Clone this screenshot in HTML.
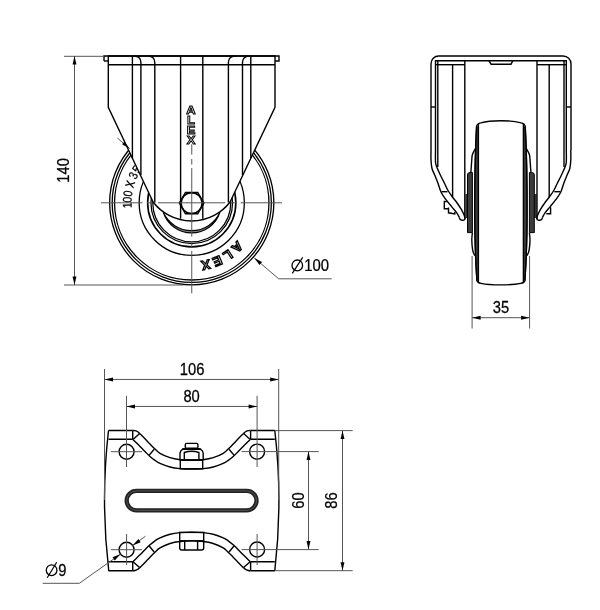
<!DOCTYPE html>
<html><head><meta charset="utf-8"><style>
html,body{margin:0;padding:0;background:#fff;}
svg{display:block;will-change:transform;}
.o{fill:none;stroke:#000;stroke-width:1.4;}
.d{fill:none;stroke:#565656;stroke-width:1;}
.cl{fill:none;stroke:#565656;stroke-width:1;}
.ah{fill:#000;stroke:none;}
.t{font-family:"Liberation Sans",sans-serif;fill:#000;stroke:#000;stroke-width:0.25;}
</style></head><body>
<svg width="600" height="610" viewBox="0 0 600 610">
<rect width="600" height="610" fill="#fff"/>
<circle cx="191.75" cy="202.8" r="82.1" fill="none" stroke="#000" stroke-width="1.3"/>
<circle cx="191.75" cy="202.8" r="79.6" fill="none" stroke="#000" stroke-width="1.3"/>
<circle cx="191.75" cy="202.8" r="77.2" fill="none" stroke="#000" stroke-width="1.3"/>
<circle cx="191.75" cy="202.8" r="52.6" fill="none" stroke="#000" stroke-width="1.3"/>
<circle cx="191.75" cy="202.8" r="44.1" fill="none" stroke="#000" stroke-width="1.6"/>
<circle cx="191.75" cy="202.8" r="40.8" fill="none" stroke="#000" stroke-width="1.25"/>
<circle cx="191.75" cy="202.8" r="39" fill="none" stroke="#000" stroke-width="1.25"/>
<path d="M163.3,212.3 A29.74,29.74 0 0 0 219.9,212.3 A30.96,30.96 0 0 1 163.3,212.3 Z" fill="#8a8a8a" stroke="#000" stroke-width="1.2"/>
<text class="t" font-size="12.6" text-anchor="middle" transform="translate(131.65,205.21) rotate(267.7) scale(0.82,1)">1</text>
<text class="t" font-size="12.6" text-anchor="middle" transform="translate(131.68,199.76) rotate(272.9) scale(0.82,1)">0</text>
<text class="t" font-size="12.6" text-anchor="middle" transform="translate(132.23,194.14) rotate(278.3) scale(0.82,1)">0</text>
<text class="t" font-size="16" text-anchor="middle" transform="translate(134.16,185.46) rotate(286.8) scale(0.82,1)">x</text>
<text class="t" font-size="12.6" text-anchor="middle" transform="translate(137.22,177.44) rotate(295) scale(0.82,1)">3</text>
<text class="t" font-size="12.6" text-anchor="middle" transform="translate(140.39,171.54) rotate(301.4) scale(0.82,1)">5</text>
<path id="tp2" d="M237.21,240.54 A59.2,59.2 0 0 1 136.11,223.44" fill="none"/>
<text font-family="Liberation Sans" font-weight="bold" font-size="13.2" letter-spacing="2.6" fill="#fff" stroke="#000" stroke-width="1.3"><textPath href="#tp2">ALEX</textPath></text>
<path d="M108.3,56 L275,56 L275,107.4 L230.1,202 A48.5,48.5 0 0 1 153.1,202 L108.3,107.4 Z" fill="#fff" stroke="#000" stroke-width="1.4"/>
<path d="M104,61 L104,56 L279,56 L279,61 L275,61" class="o"/>
<path d="M104,61 L108.3,61" class="o"/>
<line x1="108.3" y1="64.7" x2="275" y2="64.7" class="o"/>
<line x1="132.4" y1="56" x2="132.4" y2="158" class="o"/>
<path d="M134.7,56 A6.2,6.2 0 0 1 140.9,62.2 L140.9,175" class="o"/>
<path d="M148.6,56 A6.2,6.2 0 0 1 154.8,62.2 L154.8,202.5" class="o"/>
<line x1="180.6" y1="56" x2="180.6" y2="218.7" class="o"/>
<line x1="202.8" y1="56" x2="202.8" y2="218.7" class="o"/>
<path d="M234.6,56 A6.2,6.2 0 0 0 228.4,62.2 L228.4,202.5" class="o"/>
<path d="M248.7,56 A6.2,6.2 0 0 0 242.5,62.2 L242.5,175" class="o"/>
<line x1="250.8" y1="56" x2="250.8" y2="158" class="o"/>
<path d="M203.9,203.1 L197.75,213.75 L185.45,213.75 L179.3,203.1 L185.45,192.45 L197.75,192.45 Z" fill="#fff" class="o"/>
<circle cx="191.6" cy="203.1" r="10.4" class="o"/>
<text x="191" y="113.9" text-anchor="middle" font-family="Liberation Sans" font-weight="bold" font-size="11.8" fill="#fff" stroke="#000" stroke-width="0.95" transform="translate(191.2,0) scale(1.1,1) translate(-191.2,0)">A</text>
<text x="191" y="123.95" text-anchor="middle" font-family="Liberation Sans" font-weight="bold" font-size="11.8" fill="#fff" stroke="#000" stroke-width="0.95" transform="translate(191.2,0) scale(1.1,1) translate(-191.2,0)">L</text>
<text x="191" y="134" text-anchor="middle" font-family="Liberation Sans" font-weight="bold" font-size="11.8" fill="#fff" stroke="#000" stroke-width="0.95" transform="translate(191.2,0) scale(1.1,1) translate(-191.2,0)">E</text>
<text x="191" y="144.05" text-anchor="middle" font-family="Liberation Sans" font-weight="bold" font-size="11.8" fill="#fff" stroke="#000" stroke-width="0.95" transform="translate(191.2,0) scale(1.1,1) translate(-191.2,0)">X</text>
<path d="M101,202.8 H142.5 M147,202.8 H152.5 M158,202.8 H225.2 M230.6,202.8 H236.2 M240.7,202.8 H282" class="cl"/>
<path d="M191.75,144.3 V154.6 M191.75,159 V164.5 M191.75,168.1 V236.7 M191.75,241.4 V247.4 M191.75,250.9 V293.3" class="cl"/>
<line x1="117.4" y1="138" x2="129.6" y2="148.6" class="d" stroke="#333"/>
<path d="M129.6,148.6 L122.07,144.31 L124.3,141.74 Z" class="ah"/>
<line x1="64" y1="56.3" x2="104" y2="56.3" class="d"/>
<line x1="64" y1="285" x2="183" y2="285" class="d"/>
<line x1="74.5" y1="56" x2="74.5" y2="285" class="d"/>
<path d="M74.5,56 L76.45,64.5 L72.55,64.5 Z" class="ah"/>
<path d="M74.5,285 L72.55,276.5 L76.45,276.5 Z" class="ah"/>
<text class="t" font-size="16" transform="translate(69.3,170.4) rotate(-90) scale(0.92,1)" text-anchor="middle">140</text>
<polyline points="254.3,258 278.7,278.8 331.7,278.8" class="d"/>
<path d="M254.3,258 L262.01,262.07 L259.47,265.02 Z" class="ah"/>
<ellipse cx="297.3" cy="265.4" rx="5.3" ry="5.4" fill="none" stroke="#000" stroke-width="1.3"/>
<line x1="302.7" y1="257.4" x2="292.3" y2="273.3" stroke="#000" stroke-width="1.2"/>
<text class="t" font-size="16" transform="translate(304.3,270.9) scale(0.93,1)">100</text>
<path d="M438.7,56 L563.1,56 A7.9,7.9 0 0 1 571,63.9 L571,150 M438.7,56 A7.7,7.7 0 0 0 431,63.7 L431,150" class="o"/>
<path d="M431,150 C431,151.67 430.83,156.92 431,160 C431.17,163.08 431.38,166 432,168.5 C432.62,171 433.72,172.58 434.7,175 C435.68,177.42 436.83,180.12 437.9,183 C438.97,185.88 439.75,189.52 441.1,192.3 C442.45,195.08 444.25,197.32 446,199.7 C447.75,202.08 449.83,204.45 451.6,206.6 C453.37,208.75 455.3,210.78 456.6,212.6 C457.9,214.42 458.93,216.68 459.4,217.5" class="o"/>
<path d="M435.5,150 C435.5,152 435.32,159.25 435.5,162 C435.68,164.75 436.1,165 436.6,166.5 C437.1,168 437.72,169.25 438.5,171 C439.28,172.75 440.27,174.88 441.3,177 C442.33,179.12 443.58,181.45 444.7,183.7 C445.82,185.95 446.7,188.28 448,190.5 C449.3,192.72 450.98,194.92 452.5,197 C454.02,199.08 455.58,200.87 457.1,203 C458.62,205.13 460.4,207.72 461.6,209.8 C462.8,211.88 463.75,214.13 464.3,215.5 C464.85,216.87 464.8,217.58 464.9,218" class="o"/>
<path d="M570.8,150 C570.8,151.67 570.97,156.92 570.8,160 C570.63,163.08 570.42,166 569.8,168.5 C569.18,171 568.08,172.58 567.1,175 C566.12,177.42 564.97,180.12 563.9,183 C562.83,185.88 562.05,189.52 560.7,192.3 C559.35,195.08 557.55,197.32 555.8,199.7 C554.05,202.08 551.97,204.45 550.2,206.6 C548.43,208.75 546.5,210.78 545.2,212.6 C543.9,214.42 542.87,216.68 542.4,217.5" class="o"/>
<path d="M566.3,150 C566.3,152 566.48,159.25 566.3,162 C566.12,164.75 565.7,165 565.2,166.5 C564.7,168 564.08,169.25 563.3,171 C562.52,172.75 561.53,174.88 560.5,177 C559.47,179.12 558.22,181.45 557.1,183.7 C555.98,185.95 555.1,188.28 553.8,190.5 C552.5,192.72 550.82,194.92 549.3,197 C547.78,199.08 546.22,200.87 544.7,203 C543.18,205.13 541.4,207.72 540.2,209.8 C539,211.88 538.05,214.13 537.5,215.5 C536.95,216.87 537,217.58 536.9,218" class="o"/>
<path d="M459.4,217.5 Q459.8,220.2 461.8,220.2 L463.2,220.2 Q465.2,220.2 464.9,218" class="o"/>
<path d="M542.4,217.5 Q542,220.2 540,220.2 L538.6,220.2 Q536.6,220.2 536.9,218" class="o"/>
<line x1="441.5" y1="191.7" x2="447.5" y2="191.7" class="o"/>
<line x1="560.3" y1="191.7" x2="554.3" y2="191.7" class="o"/>
<line x1="431" y1="107" x2="435.5" y2="107" class="o"/>
<line x1="566.3" y1="107" x2="571" y2="107" class="o"/>
<path d="M435.5,150 L435.5,60.8 L566.3,60.8 L566.3,150" class="o"/>
<line x1="437.8" y1="61" x2="437.8" y2="167" class="o" stroke-width="1.1"/>
<line x1="564" y1="61" x2="564" y2="167" class="o" stroke-width="1.1"/>
<path d="M489,60.8 L491.1,64.2 L511,64.2 L512.8,60.8" class="o"/>
<line x1="435.5" y1="64.7" x2="464.8" y2="64.7" class="o"/>
<line x1="537" y1="64.7" x2="566.3" y2="64.7" class="o"/>
<line x1="452.6" y1="64.7" x2="452.6" y2="197.5" class="o"/>
<line x1="549.2" y1="64.7" x2="549.2" y2="197.5" class="o"/>
<line x1="464.8" y1="60.8" x2="464.8" y2="219" class="o" stroke-width="1.2"/>
<rect x="465.2" y="194" width="2.4" height="24" fill="#333"/>
<rect x="534.2" y="194" width="2.4" height="24" fill="#333"/>
<line x1="537" y1="60.8" x2="537" y2="219" class="o" stroke-width="1.2"/>
<path d="M447.2,201.5 L444.3,201.5 L444.3,208.7 L448.5,208.7" class="o"/>
<path d="M448.5,207.5 L448.5,212.8 L454.8,214 L454.8,212" fill="#888" class="o" stroke-width="1.1"/>
<path d="M550.6,207.3 L550.6,213.8 L546.3,213.8" class="o"/>
<path d="M476.6,126.5 C476.47,129.58 476.05,137.75 475.8,145 C475.55,152.25 475.27,160.33 475.1,170 C474.93,179.67 474.82,192.17 474.8,203 C474.78,213.83 474.83,225.5 475,235 C475.17,244.5 475.48,252.42 475.8,260 C476.12,267.58 476.72,277.08 476.9,280.5 Q477.5,282.8 481,283.4 C490.5,285.4 511.3,285.4 520.8,283.4 Q524.3,282.8 524.9,280.5 L524.9,280.5 C525.08,277.08 525.68,267.58 526,260 C526.32,252.42 526.63,244.5 526.8,235 C526.97,225.5 527.02,213.83 527,203 C526.98,192.17 526.87,179.67 526.7,170 C526.53,160.33 526.25,152.25 526,145 C525.75,137.75 525.33,129.58 525.2,126.5 Q524.9,123.6 521,122.9 C511.3,120 490.5,120 480.8,122.9 Q476.9,123.6 476.6,126.5 Z" fill="#fff" class="o" stroke-width="1.3"/>
<path d="M476.6,126.5 C476.47,129.58 476.05,137.75 475.8,145 C475.55,152.25 475.27,160.33 475.1,170 C474.93,179.67 474.82,192.17 474.8,203 C474.78,213.83 474.83,225.5 475,235 C475.17,244.5 475.48,252.42 475.8,260 C476.12,267.58 476.72,277.08 476.9,280.5 L478.4,280.5 L478.4,126.5 Z" fill="#3c3c3c" stroke="none"/>
<path d="M525.2,126.5 C525.33,129.58 525.75,137.75 526,145 C526.25,152.25 526.53,160.33 526.7,170 C526.87,179.67 526.98,192.17 527,203 C527.02,213.83 526.97,225.5 526.8,235 C526.63,244.5 526.32,252.42 526,260 C525.68,267.58 525.08,277.08 524.9,280.5 L523.4,280.5 L523.4,126.5 Z" fill="#3c3c3c" stroke="none"/>
<path d="M476.6,126.5 C476.47,129.58 476.05,137.75 475.8,145 C475.55,152.25 475.27,160.33 475.1,170 C474.93,179.67 474.82,192.17 474.8,203 C474.78,213.83 474.83,225.5 475,235 C475.17,244.5 475.48,252.42 475.8,260 C476.12,267.58 476.72,277.08 476.9,280.5" class="o" stroke-width="1.3"/>
<path d="M525.2,126.5 C525.33,129.58 525.75,137.75 526,145 C526.25,152.25 526.53,160.33 526.7,170 C526.87,179.67 526.98,192.17 527,203 C527.02,213.83 526.97,225.5 526.8,235 C526.63,244.5 526.32,252.42 526,260 C525.68,267.58 525.08,277.08 524.9,280.5" class="o" stroke-width="1.3"/>
<line x1="478.4" y1="124" x2="478.4" y2="282" class="o" stroke-width="1.3"/>
<line x1="523.4" y1="124" x2="523.4" y2="282" class="o" stroke-width="1.3"/>
<path d="M475.4,148.5 C475.13,149 474.33,150.35 473.8,151.5 C473.27,152.65 472.57,153.6 472.2,155.4 C471.83,157.2 471.77,160.2 471.6,162.3 C471.43,164.4 471.33,166.28 471.2,168 C471.07,169.72 470.87,171.83 470.8,172.6" class="o" stroke-width="1.2"/>
<path d="M472.4,232.7 C472.3,233.88 471.77,236.97 471.8,239.8 C471.83,242.63 472.27,247.4 472.6,249.7 C472.93,252 473.42,252.62 473.8,253.6 C474.18,254.58 474.72,255.27 474.9,255.6" class="o" stroke-width="1.2"/>
<path d="M526.4,148.5 C526.67,149 527.47,150.35 528,151.5 C528.53,152.65 529.23,153.6 529.6,155.4 C529.97,157.2 530.03,160.2 530.2,162.3 C530.37,164.4 530.47,166.28 530.6,168 C530.73,169.72 530.93,171.83 531,172.6" class="o" stroke-width="1.2"/>
<path d="M529.4,232.7 C529.5,233.88 530.03,236.97 530,239.8 C529.97,242.63 529.53,247.4 529.2,249.7 C528.87,252 528.38,252.62 528,253.6 C527.62,254.58 527.08,255.27 526.9,255.6" class="o" stroke-width="1.2"/>
<path d="M467.5,232.6 L467.5,175 Q467.5,172.5 470,172.5 L472.4,172.5 L472.4,232.6 Z" fill="#3c3c3c" stroke="#000" stroke-width="1"/>
<path d="M534.3,232.6 L534.3,175 Q534.3,172.5 531.8,172.5 L529.4,172.5 L529.4,232.6 Z" fill="#3c3c3c" stroke="#000" stroke-width="1"/>
<line x1="472.1" y1="256" x2="472.1" y2="328.5" class="d"/>
<line x1="529.6" y1="256" x2="529.6" y2="328.5" class="d"/>
<line x1="472.1" y1="317.7" x2="529.6" y2="317.7" class="d"/>
<path d="M472.1,317.7 L480.6,315.75 L480.6,319.65 Z" class="ah"/>
<path d="M529.6,317.7 L521.1,319.65 L521.1,315.75 Z" class="ah"/>
<text class="t" font-size="16" text-anchor="middle" transform="translate(500.9,313) scale(0.92,1)">35</text>
<path d="M108.5,430.5 A602,602 0 0 0 108.75,570.8" class="o"/>
<path d="M274.8,430.5 A602,602 0 0 1 274.8,570.8" class="o"/>
<path d="M108.5,430.5 L132.7,430.5 M108.5,439.3 L132.7,439.3 M132.7,430.5 L132.7,439.3" class="o"/>
<path d="M108.5,570.8 L132.7,570.8 M108.5,561.8 L132.7,561.8 M132.7,570.8 L132.7,561.8" class="o"/>
<path d="M250.6,430.5 L274.8,430.5 M250.6,439.3 L274.8,439.3 M250.6,430.5 L250.6,439.3" class="o"/>
<path d="M250.6,570.8 L274.8,570.8 M250.6,561.8 L274.8,561.8 M250.6,570.8 L250.6,561.8" class="o"/>
<path d="M132.7,430.5 C133.08,430.53 134.12,430.45 135,430.7 C135.88,430.95 137.08,431.4 138,432 C138.92,432.6 139.33,433.17 140.5,434.3 C141.67,435.43 143.42,437.18 145,438.8 C146.58,440.42 148.33,442.3 150,444 C151.67,445.7 153.33,447.45 155,449 C156.67,450.55 157.5,451.85 160,453.3 C162.5,454.75 166.67,456.63 170,457.7 C173.33,458.77 176.4,459.27 180,459.7 C183.6,460.13 187.73,460.3 191.6,460.3 C195.47,460.3 199.6,460.13 203.2,459.7 C206.8,459.27 209.87,458.77 213.2,457.7 C216.53,456.63 220.7,454.75 223.2,453.3 C225.7,451.85 226.53,450.55 228.2,449 C229.87,447.45 231.53,445.7 233.2,444 C234.87,442.3 236.62,440.42 238.2,438.8 C239.78,437.18 241.53,435.43 242.7,434.3 C243.87,433.17 244.28,432.6 245.2,432 C246.12,431.4 247.32,430.95 248.2,430.7 C249.08,430.45 250.12,430.53 250.5,430.5" class="o"/>
<path d="M132.7,439.3 C133.92,440.48 137.95,444.37 140,446.4 C142.05,448.43 143.33,449.82 145,451.5 C146.67,453.18 148.33,455.02 150,456.5 C151.67,457.98 153.33,459.25 155,460.4 C156.67,461.55 157.5,462.3 160,463.4 C162.5,464.5 166.67,466.13 170,467 C173.33,467.87 176.4,468.25 180,468.6 C183.6,468.95 187.73,469.1 191.6,469.1 C195.47,469.1 199.6,468.95 203.2,468.6 C206.8,468.25 209.87,467.87 213.2,467 C216.53,466.13 220.7,464.5 223.2,463.4 C225.7,462.3 226.53,461.55 228.2,460.4 C229.87,459.25 231.53,457.98 233.2,456.5 C234.87,455.02 236.53,453.18 238.2,451.5 C239.87,449.82 241.15,448.43 243.2,446.4 C245.25,444.37 249.28,440.48 250.5,439.3" class="o"/>
<path d="M132.7,570.7 C133.08,570.67 134.12,570.75 135,570.5 C135.88,570.25 137.08,569.8 138,569.2 C138.92,568.6 139.33,568.03 140.5,566.9 C141.67,565.77 143.42,564.02 145,562.4 C146.58,560.78 148.33,558.9 150,557.2 C151.67,555.5 153.33,553.75 155,552.2 C156.67,550.65 157.5,549.35 160,547.9 C162.5,546.45 166.67,544.57 170,543.5 C173.33,542.43 176.4,541.93 180,541.5 C183.6,541.07 187.73,540.9 191.6,540.9 C195.47,540.9 199.6,541.07 203.2,541.5 C206.8,541.93 209.87,542.43 213.2,543.5 C216.53,544.57 220.7,546.45 223.2,547.9 C225.7,549.35 226.53,550.65 228.2,552.2 C229.87,553.75 231.53,555.5 233.2,557.2 C234.87,558.9 236.62,560.78 238.2,562.4 C239.78,564.02 241.53,565.77 242.7,566.9 C243.87,568.03 244.28,568.6 245.2,569.2 C246.12,569.8 247.32,570.25 248.2,570.5 C249.08,570.75 250.12,570.67 250.5,570.7" class="o"/>
<path d="M132.7,561.9 C133.92,560.72 137.95,556.83 140,554.8 C142.05,552.77 143.33,551.38 145,549.7 C146.67,548.02 148.33,546.18 150,544.7 C151.67,543.22 153.33,541.95 155,540.8 C156.67,539.65 157.5,538.9 160,537.8 C162.5,536.7 166.67,535.07 170,534.2 C173.33,533.33 176.4,532.95 180,532.6 C183.6,532.25 187.73,532.1 191.6,532.1 C195.47,532.1 199.6,532.25 203.2,532.6 C206.8,532.95 209.87,533.33 213.2,534.2 C216.53,535.07 220.7,536.7 223.2,537.8 C225.7,538.9 226.53,539.65 228.2,540.8 C229.87,541.95 231.53,543.22 233.2,544.7 C234.87,546.18 236.53,548.02 238.2,549.7 C239.87,551.38 241.15,552.77 243.2,554.8 C245.25,556.83 249.28,560.72 250.5,561.9" class="o"/>
<line x1="133.3" y1="439.2" x2="139.6" y2="433.6" class="o"/>
<line x1="133.3" y1="562" x2="139.6" y2="567.6" class="o"/>
<line x1="249.9" y1="439.2" x2="243.6" y2="433.6" class="o"/>
<line x1="249.9" y1="562" x2="243.6" y2="567.6" class="o"/>
<line x1="149" y1="455.4" x2="154.2" y2="449.2" class="o"/>
<line x1="149" y1="545.8" x2="154.2" y2="552" class="o"/>
<line x1="234.2" y1="455.4" x2="229" y2="449.2" class="o"/>
<line x1="234.2" y1="545.8" x2="229" y2="552" class="o"/>
<rect x="185.3" y="443.4" width="12.6" height="4.8" rx="1.3" fill="#fff" class="o" stroke-width="1.6"/>
<path d="M180,459.6 L180,453 Q180.5,450.5 182.5,449.3 L200.7,449.3 Q202.8,450.5 203.2,453 L203.2,459.6" fill="#fff" class="o"/>
<line x1="182.5" y1="448.8" x2="200.7" y2="448.8" class="o" stroke-width="2"/>
<path d="M184.3,459.5 L184.3,452.5 Q191.6,450 198.9,452.5 L198.9,459.5" fill="none" class="o"/>
<path d="M180,459.6 Q191.6,461 203.2,459.6" class="o"/>
<rect x="180.3" y="460" width="22.4" height="8.8" fill="#fff" class="o"/>
<rect x="179.7" y="532.4" width="24" height="8.4" fill="#fff" class="o"/>
<path d="M179.7,540.8 L179.7,548 Q179.7,550 182,550 L201.4,550 Q203.7,550 203.7,548 L203.7,540.8" fill="#fff" class="o"/>
<line x1="184.7" y1="540.8" x2="184.7" y2="550" class="o"/>
<line x1="197.6" y1="540.8" x2="197.6" y2="550" class="o"/>
<path d="M136.4,490.85 L246.8,490.85 A9.75,9.75 0 0 1 246.8,510.35 L136.4,510.35 A9.75,9.75 0 0 1 136.4,490.85 Z" fill="none" stroke="#222" stroke-width="4.3"/>
<path d="M136.4,490.85 L246.8,490.85 A9.75,9.75 0 0 1 246.8,510.35 L136.4,510.35 A9.75,9.75 0 0 1 136.4,490.85 Z" fill="none" stroke="#555" stroke-width="1"/>
<circle cx="126.6" cy="451.7" r="7.5" class="o"/>
<circle cx="257.1" cy="451.6" r="7.5" class="o"/>
<circle cx="126.6" cy="549.7" r="7.5" class="o"/>
<circle cx="257.1" cy="549.5" r="7.5" class="o"/>
<line x1="111" y1="451.7" x2="142" y2="451.7" class="d"/>
<line x1="241.6" y1="451.6" x2="318.7" y2="451.6" class="d"/>
<line x1="111" y1="549.7" x2="142" y2="549.7" class="d"/>
<line x1="241.6" y1="549.6" x2="318.7" y2="549.6" class="d"/>
<line x1="126.5" y1="395.8" x2="126.5" y2="467" class="d"/>
<line x1="257.1" y1="395.8" x2="257.1" y2="467" class="d"/>
<line x1="126.6" y1="534" x2="126.6" y2="565" class="d"/>
<line x1="257.1" y1="534" x2="257.1" y2="565" class="d"/>
<line x1="104.5" y1="369" x2="104.5" y2="500" class="d"/>
<line x1="278.7" y1="369" x2="278.7" y2="500" class="d"/>
<line x1="104.5" y1="379.45" x2="278.7" y2="379.45" class="d"/>
<path d="M104.5,379.45 L113,377.5 L113,381.4 Z" class="ah"/>
<path d="M278.7,379.45 L270.2,381.4 L270.2,377.5 Z" class="ah"/>
<line x1="126.5" y1="406.45" x2="257.1" y2="406.45" class="d"/>
<path d="M126.5,406.45 L135,404.5 L135,408.4 Z" class="ah"/>
<path d="M257.1,406.45 L248.6,408.4 L248.6,404.5 Z" class="ah"/>
<line x1="275" y1="430.6" x2="352.7" y2="430.6" class="d"/>
<line x1="275" y1="570.7" x2="352.7" y2="570.7" class="d"/>
<line x1="342.5" y1="430.6" x2="342.5" y2="570.7" class="d"/>
<path d="M342.5,430.6 L344.45,439.1 L340.55,439.1 Z" class="ah"/>
<path d="M342.5,570.7 L340.55,562.2 L344.45,562.2 Z" class="ah"/>
<line x1="308.5" y1="451.6" x2="308.5" y2="549.6" class="d"/>
<path d="M308.5,451.6 L310.45,460.1 L306.55,460.1 Z" class="ah"/>
<path d="M308.5,549.6 L306.55,541.1 L310.45,541.1 Z" class="ah"/>
<text class="t" font-size="16" text-anchor="middle" transform="translate(192.1,375.1) scale(0.92,1)">106</text>
<text class="t" font-size="16" text-anchor="middle" transform="translate(191.6,401.7) scale(0.92,1)">80</text>
<text class="t" font-size="16" text-anchor="middle" transform="translate(303.7,500.6) rotate(-90) scale(0.92,1)">60</text>
<text class="t" font-size="16" text-anchor="middle" transform="translate(337,500.6) rotate(-90) scale(0.92,1)">86</text>
<polyline points="42.7,583.3 79.3,583.3 120.7,554" class="d"/>
<line x1="132.5" y1="545.5" x2="145.5" y2="536.2" class="d"/>
<path d="M132.6,545.5 L138.39,538.97 L140.65,542.15 Z" class="ah"/>
<path d="M120.6,554 L114.81,560.53 L112.55,557.35 Z" class="ah"/>
<ellipse cx="51.6" cy="570.2" rx="5.3" ry="5.4" fill="none" stroke="#000" stroke-width="1.3"/>
<line x1="56.7" y1="562.3" x2="47.2" y2="577.8" stroke="#000" stroke-width="1.2"/>
<text class="t" font-size="16" transform="translate(58.3,576.2) scale(0.92,1)">9</text>
</svg>
</body></html>
